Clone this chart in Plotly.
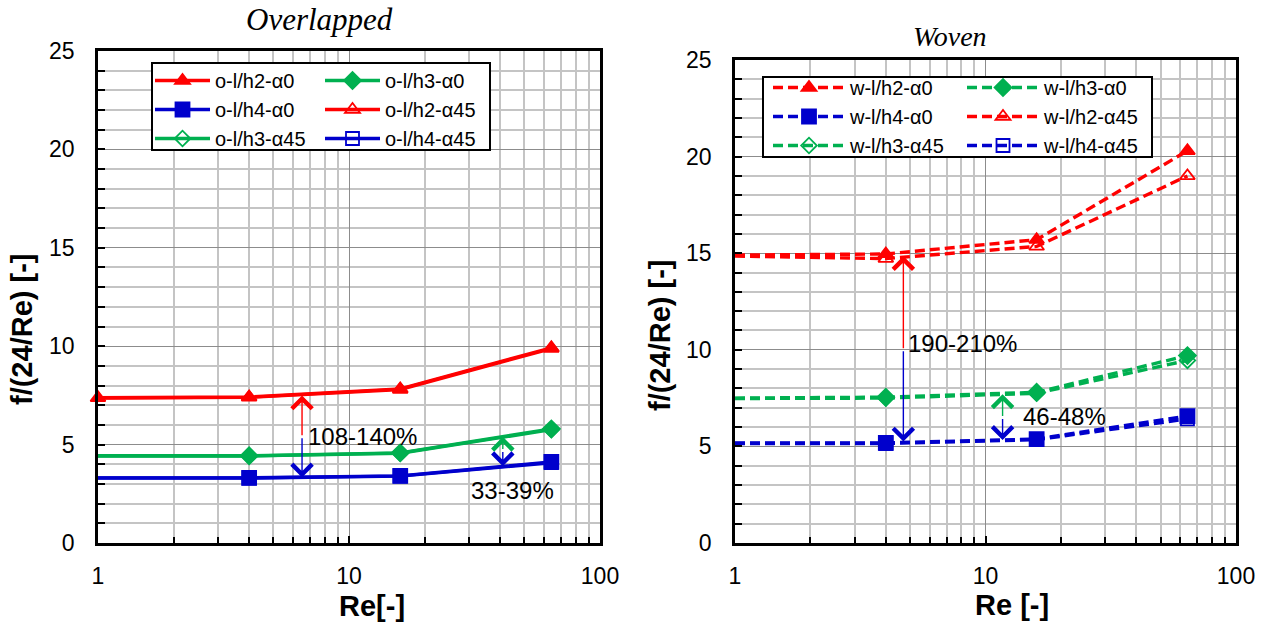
import numpy as np
import plotly.graph_objects as go

# ---------------- data ----------------
re_vals = [1, 4, 16, 64]

# Overlapped
o_h2_a0 = [7.38, 7.42, 7.83, 9.92]
o_h3_a0 = [4.43, 4.43, 4.58, 5.80]
o_h4_a0 = [3.31, 3.31, 3.41, 4.12]
o_h2_a45 = [7.36, 7.40, 7.80, 9.88]
o_h3_a45 = [4.42, 4.42, 4.56, 5.76]
o_h4_a45 = [3.30, 3.30, 3.40, 4.08]

# Woven
w_h2_a0 = [14.90, 14.96, 15.70, 20.30]
w_h3_a0 = [7.50, 7.55, 7.80, 9.70]
w_h4_a0 = [5.18, 5.18, 5.38, 6.57]
w_h2_a45 = [14.85, 14.72, 15.35, 19.00]
w_h3_a45 = [7.48, 7.50, 7.75, 9.45]
w_h4_a45 = [5.15, 5.15, 5.35, 6.42]

# arrows: Re position, top, colour-split, bottom
o_arrow_re = [6.5, 41.0]
o_arrow_top = [7.50, 5.40]
o_arrow_mid = [5.40, 4.70]
o_arrow_bot = [3.33, 3.90]
o_label_text = ["108-140%", "33-39%"]
o_label_re = [6.74, 45.0]
o_label_y = [5.39, 2.69]

w_arrow_re = [4.7, 11.7]
w_arrow_top = [14.85, 7.70]
w_arrow_mid = [10.0, 6.50]
w_arrow_bot = [5.25, 5.33]
w_label_text = ["190-210%", "46-48%"]
w_label_re = [4.83, 13.8]
w_label_y = [10.35, 6.57]

x_major = [1, 10, 100]
x_minor = [2, 3, 4, 5, 6, 7, 8, 9, 20, 30, 40, 50, 60, 70, 80, 90]

RED = "#FF0000"
GREEN = "#00B050"
BLUE = "#0000CC"
FONT = "Arial, Liberation Sans, sans-serif"
SERIF = "Liberation Serif, Times New Roman, serif"

W, H = 1269, 622

fig = go.Figure()

def add_series(name, y, color, symbol, xa, ya, legend, dash, first_marker):
    sizes = {"triangle-up": 13, "triangle-up-open": 13, "diamond": 13,
             "diamond-open": 12, "square": 14, "square-open": 13}
    s = sizes[symbol]
    size_list = [s if (first_marker or i > 0) else 0 for i in range(len(y))]
    line = dict(color=color, width=3.4)
    if dash:
        line["dash"] = "10px,5px"
    mk = dict(symbol=symbol, size=size_list, color=color, opacity=1,
              line=dict(color=color, width=1.8))
    fig.add_trace(go.Scatter(x=re_vals, y=y, mode="lines+markers", line=line,
                             marker=mk, xaxis=xa, yaxis=ya, showlegend=False,
                             cliponaxis=False, hoverinfo="skip"))
    mk2 = dict(symbol=symbol, size=s, color=color, opacity=1,
               line=dict(color=color, width=1.8))
    fig.add_trace(go.Scatter(x=[None], y=[None], mode="lines+markers", line=line,
                             marker=mk2, xaxis=xa, yaxis=ya, name=name,
                             legend=legend, showlegend=True))

# Overlapped (left)
add_series("o-l/h2-α0", o_h2_a0, RED, "triangle-up", "x", "y", "legend", False, True)
add_series("o-l/h4-α0", o_h4_a0, BLUE, "square", "x", "y", "legend", False, False)
add_series("o-l/h3-α45", o_h3_a45, GREEN, "diamond-open", "x", "y", "legend", False, False)
add_series("o-l/h3-α0", o_h3_a0, GREEN, "diamond", "x", "y", "legend2", False, False)
add_series("o-l/h2-α45", o_h2_a45, RED, "triangle-up-open", "x", "y", "legend2", False, False)
add_series("o-l/h4-α45", o_h4_a45, BLUE, "square-open", "x", "y", "legend2", False, False)

# Woven (right)
add_series("w-l/h2-α0", w_h2_a0, RED, "triangle-up", "x2", "y2", "legend3", True, False)
add_series("w-l/h4-α0", w_h4_a0, BLUE, "square", "x2", "y2", "legend3", True, False)
add_series("w-l/h3-α45", w_h3_a45, GREEN, "diamond-open", "x2", "y2", "legend3", True, False)
add_series("w-l/h3-α0", w_h3_a0, GREEN, "diamond", "x2", "y2", "legend4", True, False)
add_series("w-l/h2-α45", w_h2_a45, RED, "triangle-up-open", "x2", "y2", "legend4", True, False)
add_series("w-l/h4-α45", w_h4_a45, BLUE, "square-open", "x2", "y2", "legend4", True, False)

def xaxis(domain, anchor):
    return dict(domain=domain, anchor=anchor, type="log", range=[0, 2],
                tickvals=x_major, ticktext=[str(v) for v in x_major],
                showgrid=True, gridcolor="#8C8C8C", gridwidth=1.3,
                minor=dict(tickvals=x_minor, showgrid=True, gridcolor="#C4C4C4",
                           gridwidth=1.5, ticks="inside", ticklen=6,
                           tickcolor="black", tickwidth=1.5),
                ticks="inside", ticklen=7, tickwidth=1.5, tickcolor="black",
                showline=True, linecolor="black", linewidth=2.5, mirror=True,
                tickfont=dict(family=FONT, size=23, color="black"),
                ticklabelstandoff=11, zeroline=False, automargin=False,
                fixedrange=True)

def yaxis(domain, anchor):
    return dict(domain=domain, anchor=anchor, range=[0, 25], dtick=5, tick0=0,
                showgrid=True, gridcolor="#8C8C8C", gridwidth=1.3,
                minor=dict(dtick=1, showgrid=True, gridcolor="#C4C4C4",
                           gridwidth=1.5, ticks="inside", ticklen=7,
                           tickcolor="black", tickwidth=1.5),
                ticks="inside", ticklen=7, tickwidth=1.5, tickcolor="black",
                showline=True, linecolor="black", linewidth=2.5, mirror=True,
                tickfont=dict(family=FONT, size=23, color="black"),
                ticklabelstandoff=16, zeroline=False, automargin=False,
                fixedrange=True)

def px_x(p):
    return p / W

def px_y(p):
    return 1 - p / H

annotations = []

def add_arrows(xref, yref, res, tops, mids, bots, top_color):
    for i, r in enumerate(res):
        lx = float(np.log10(r))
        annotations.append(dict(x=lx, y=tops[i], ax=lx, ay=mids[i], xref=xref, yref=yref,
                                axref=xref, ayref=yref, showarrow=True, arrowhead=4,
                                arrowsize=2.8, arrowwidth=1.4, arrowcolor=top_color[i],
                                text=""))
        annotations.append(dict(x=lx, y=bots[i], ax=lx, ay=mids[i], xref=xref, yref=yref,
                                axref=xref, ayref=yref, showarrow=True, arrowhead=4,
                                arrowsize=2.8, arrowwidth=1.4, arrowcolor=BLUE,
                                text=""))

def add_labels(xref, yref, texts, res, ys, anchors):
    for t, r, yv, a in zip(texts, res, ys, anchors):
        annotations.append(dict(x=float(np.log10(r)), y=yv, xref=xref, yref=yref,
                                text=t, showarrow=False, xanchor=a, yanchor="middle",
                                font=dict(family=FONT, size=24, color="black")))

add_arrows("x", "y", o_arrow_re, o_arrow_top, o_arrow_mid, o_arrow_bot, [RED, GREEN])
add_arrows("x2", "y2", w_arrow_re, w_arrow_top, w_arrow_mid, w_arrow_bot, [RED, GREEN])
add_labels("x", "y", o_label_text, o_label_re, o_label_y, ["left", "center"])
add_labels("x2", "y2", w_label_text, w_label_re, w_label_y, ["left", "left"])

# titles
annotations.append(dict(x=px_x(320), y=px_y(19), xref="paper", yref="paper", text="Overlapped",
                        showarrow=False, xanchor="center", yanchor="middle",
                        font=dict(family=SERIF, size=31, color="black", style="italic")))
annotations.append(dict(x=px_x(950), y=px_y(37), xref="paper", yref="paper", text="Woven",
                        showarrow=False, xanchor="center", yanchor="middle",
                        font=dict(family=SERIF, size=28, color="black", style="italic")))
# axis titles
annotations.append(dict(x=px_x(22), y=px_y(330), xref="paper", yref="paper",
                        text="<b>f/(24/Re) [-]</b>", textangle=-90, showarrow=False,
                        xanchor="center", yanchor="middle",
                        font=dict(family=FONT, size=29, color="black")))
annotations.append(dict(x=px_x(660), y=px_y(336), xref="paper", yref="paper",
                        text="<b>f/(24/Re) [-]</b>", textangle=-90, showarrow=False,
                        xanchor="center", yanchor="middle",
                        font=dict(family=FONT, size=29, color="black")))
annotations.append(dict(x=px_x(372), y=px_y(606), xref="paper", yref="paper",
                        text="<b>Re[-]</b>", showarrow=False,
                        xanchor="center", yanchor="middle",
                        font=dict(family=FONT, size=29, color="black")))
annotations.append(dict(x=px_x(1012), y=px_y(605), xref="paper", yref="paper",
                        text="<b>Re [-]</b>", showarrow=False,
                        xanchor="center", yanchor="middle",
                        font=dict(family=FONT, size=29, color="black")))

shapes = [
    dict(type="rect", xref="paper", yref="paper", x0=px_x(152), x1=px_x(490),
         y0=px_y(150), y1=px_y(63), fillcolor="white", line=dict(color="black", width=2),
         layer="above"),
    dict(type="rect", xref="paper", yref="paper", x0=px_x(763), x1=px_x(1152),
         y0=px_y(157), y1=px_y(77), fillcolor="white", line=dict(color="black", width=2),
         layer="above"),
]

def legend(xp, yp, iw):
    return dict(x=px_x(xp), y=px_y(yp), xanchor="left", yanchor="top",
                bgcolor="rgba(0,0,0,0)", borderwidth=0, itemwidth=iw,
                font=dict(family=FONT, size=20, color="black"),
                tracegroupgap=0, traceorder="normal", itemclick=False,
                itemdoubleclick=False)

fig.update_layout(
    width=W, height=H,
    margin=dict(l=0, r=0, t=0, b=0),
    paper_bgcolor="white", plot_bgcolor="white",
    xaxis=xaxis([98 / W, 600 / W], "y"),
    yaxis=yaxis([(H - 543) / H, (H - 51) / H], "x"),
    xaxis2=xaxis([735 / W, 1236 / W], "y2"),
    yaxis2=yaxis([(H - 543) / H, (H - 60) / H], "x2"),
    legend=legend(150, 61, 55),
    legend2=legend(320, 61, 55),
    legend3=legend(768, 68, 72),
    legend4=legend(962, 68, 72),
    annotations=annotations,
    shapes=shapes,
    showlegend=True,
)

fig.write_html("out.html", config={"displayModeBar": False},
               post_script="document.body.style.margin='0px';")
